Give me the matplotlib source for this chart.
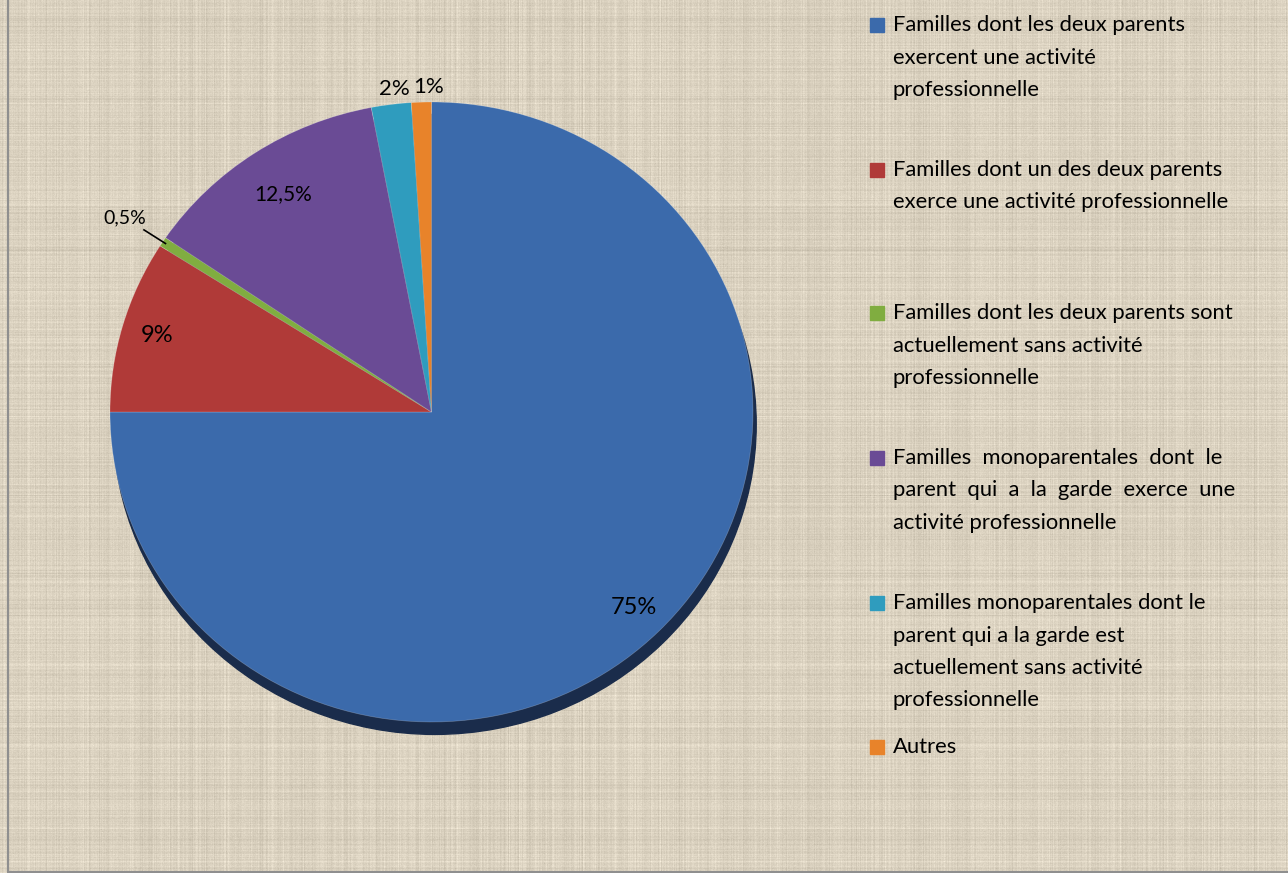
import matplotlib.pyplot as plt
import numpy as np
from matplotlib.patches import Ellipse, Rectangle

# data
categories = [
    "Familles dont les deux parents\nexercent une activité\nprofessionnelle",
    "Familles dont un des deux parents\nexerce une activité professionnelle",
    "Familles dont les deux parents sont\nactuellement sans activité\nprofessionnelle",
    "Familles  monoparentales  dont  le\nparent  qui  a  la  garde  exerce  une\nactivité professionnelle",
    "Familles monoparentales dont le\nparent qui a la garde est\nactuellement sans activité\nprofessionnelle",
    "Autres",
]
values = [75, 9, 0.5, 12.5, 2, 1]
pct_labels = ['75%', '9%', '0,5%', '12,5%', '2%', '1%']
colors = ['#3b6aab', '#b03a38', '#80ad40', '#6a4b95', '#2f9cbe', '#e8832a']

W, H = 1288, 873
plt.rcParams['font.family'] = ['Lato', 'DejaVu Sans']

fig = plt.figure(figsize=(W / 100, H / 100), dpi=100)

# textured beige background (decoration only)
bg = fig.add_axes([0, 0, 1, 1])
bg.set_xlim(0, W)
bg.set_ylim(H, 0)
bg.axis('off')
rng = np.random.default_rng(7)
tex = (0.6 * rng.normal(0, 1, (H, 1)) + 0.6 * rng.normal(0, 1, (1, W))
       + 0.35 * rng.normal(0, 1, (H, W)))
base = np.array([219, 210, 192]) / 255
img = np.clip(base[None, None, :] + 0.03 * tex[..., None], 0, 1)
bg.imshow(img, extent=[0, W, H, 0], aspect='auto', interpolation='nearest')
bg.add_patch(Rectangle((8, -10), W + 20, H + 9, fill=False, ec='#8f8f8f', lw=1.5))

# pie (slightly squashed like the original)
ax = fig.add_axes([110 / W, (H - 722) / H, 643 / W, 620 / H])
ax.add_patch(Ellipse((0.01, -0.04), 2.0, 2.0, color='#1a2c4b', zorder=0, clip_on=False))
wedges, _ = ax.pie(values, colors=colors, startangle=90, counterclock=False,
                   radius=1, wedgeprops=dict(linewidth=0.5, edgecolor=(1, 1, 1, 0.25)))
ax.set_xlim(-1, 1)
ax.set_ylim(-1, 1)
ax.set_aspect('auto')
ax.axis('off')

label_r = [0.89, 0.89, 1.14, 0.84, 1.05, 1.05]
label_size = [17, 17, 14, 15, 16, 16]
label_dx = [0, 0, 0, 0, 5, 8]
for w, txt, r, fs, dx in zip(wedges, pct_labels, label_r, label_size, label_dx):
    mid = np.deg2rad((w.theta1 + w.theta2) / 2)
    ax.annotate(txt, (r * np.cos(mid), r * np.sin(mid)), xytext=(dx, 0),
                textcoords='offset pixels', ha='center', va='center',
                fontsize=fs, color='black', annotation_clip=False)

# leader line for the thin 0,5% slice
g = wedges[2]
mid = np.deg2rad((g.theta1 + g.theta2) / 2)
ax.plot([0.99 * np.cos(mid), 1.07 * np.cos(mid)],
        [0.99 * np.sin(mid), 1.07 * np.sin(mid)], color='black', lw=1.2,
        clip_on=False)

# legend drawn by hand (uneven spacing in the original)
first_y = [25, 170, 313, 458, 603, 747]
line_h = 32.5
for label, col, y0 in zip(categories, colors, first_y):
    bg.add_patch(Rectangle((870, y0 - 7), 14, 14, color=col))
    for i, line in enumerate(label.split('\n')):
        bg.text(893, y0 + i * line_h, line, ha='left', va='center',
                fontsize=15.8, color='black')

fig.savefig('out.png', dpi=100)
